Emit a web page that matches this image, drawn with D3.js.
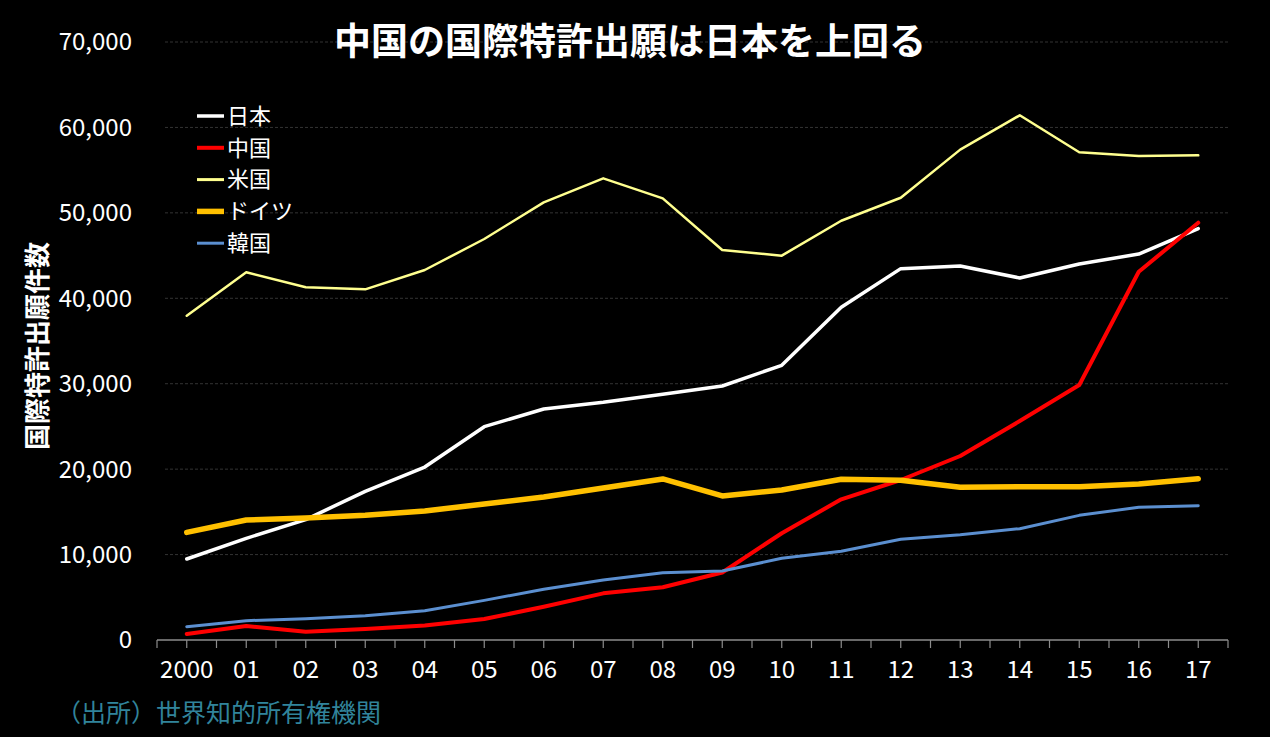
<!DOCTYPE html>
<html>
<head>
<meta charset="utf-8">
<script src="https://cdn.jsdelivr.net/npm/d3@7"></script>
<style>
  html, body { margin: 0; padding: 0; background: #000; }
  svg { display: block; }
</style>
</head>
<body>
<div id="chart"></div>
<script>
const width = 1270;
const height = 737;
const marginTop = 42;
const marginRight = 42;
const marginBottom = 97;
const marginLeft = 157;

const title = '中国の国際特許出願は日本を上回る';
const yTitle = '国際特許出願件数';
const source = '（出所）世界知的所有権機関';

// years on the x axis
const years = ['2000', '01', '02', '03', '04', '05', '06', '07', '08', '09',
               '10', '11', '12', '13', '14', '15', '16', '17'];
const yTicks = [0, 10000, 20000, 30000, 40000, 50000, 60000, 70000];

// values
const japan   = [9480, 11900, 14100, 17400, 20250, 24970, 27040, 27820, 28760, 29730,
                 32150, 38940, 43470, 43780, 42380, 44010, 45180, 48150];
const china   = [700, 1640, 970, 1300, 1700, 2450, 3900, 5460, 6170, 7900,
                 12500, 16470, 18730, 21540, 25630, 29850, 43100, 48850];
const usa     = [37960, 43040, 41290, 41050, 43310, 46940, 51230, 54040, 51700, 45650,
                 44990, 49080, 51770, 57400, 61420, 57090, 56650, 56730];
const germany = [12600, 14050, 14280, 14600, 15100, 15920, 16740, 17790, 18850, 16860,
                 17560, 18810, 18690, 17870, 17950, 17950, 18260, 18880];
const korea   = [1560, 2260, 2490, 2850, 3430, 4640, 5930, 7020, 7880, 8070,
                 9560, 10380, 11790, 12330, 13030, 14590, 15530, 15720];

const seriesNames = ['日本', '中国', '米国', 'ドイツ', '韓国'];
const seriesValues = [japan, china, usa, germany, korea];
const seriesColors = ['#ffffff', '#ff0000', '#ffff8f', '#ffc000', '#5b8fd0'];
const seriesWidths = [3.5, 4, 2.5, 5.5, 3];

const cjk = '"Noto Sans CJK JP", "Noto Sans", sans-serif';

const svg = d3.select('#chart').append('svg')
  .attr('width', width)
  .attr('height', height)
  .style('background-color', '#000');

const x = d3.scalePoint()
  .domain(years)
  .range([marginLeft, width - marginRight])
  .padding(0.5);

const y = d3.scaleLinear()
  .domain([0, 70000])
  .range([height - marginBottom, marginTop]);

// grid lines
svg.append('g')
  .selectAll('line')
  .data(yTicks.filter(d => d > 0))
  .join('line')
  .attr('x1', marginLeft + 8)
  .attr('x2', width - marginRight)
  .attr('y1', d => y(d))
  .attr('y2', d => y(d))
  .style('stroke', '#333')
  .style('stroke-width', 1)
  .style('stroke-dasharray', '3,2');

// y tick labels
svg.append('g')
  .selectAll('text')
  .data(yTicks)
  .join('text')
  .attr('x', 132)
  .attr('y', d => y(d))
  .attr('dy', '0.35em')
  .attr('text-anchor', 'end')
  .style('fill', '#fff')
  .style('font-family', cjk)
  .style('font-size', '24px')
  .text(d3.format(','));

// x axis: line, ticks every half step, labels
const step = x.step();
const halfTicks = d3.range(years.length * 2 + 1).map(i => marginLeft + i * step / 2);
const xAxis = svg.append('g');
xAxis.append('line')
  .attr('x1', marginLeft)
  .attr('x2', width - marginRight)
  .attr('y1', y(0))
  .attr('y2', y(0))
  .style('stroke', '#8c8c8c')
  .style('stroke-width', 1.5);
xAxis.selectAll('.tick')
  .data(halfTicks)
  .join('line')
  .attr('class', 'tick')
  .attr('x1', d => d)
  .attr('x2', d => d)
  .attr('y1', y(0))
  .attr('y2', y(0) + 8)
  .style('stroke', '#8c8c8c')
  .style('stroke-width', 1.2);
xAxis.selectAll('text')
  .data(years)
  .join('text')
  .attr('x', d => x(d))
  .attr('y', 670)
  .attr('dy', '0.35em')
  .attr('text-anchor', 'middle')
  .style('fill', '#fff')
  .style('font-family', cjk)
  .style('font-size', '24px')
  .text(d => d);

// lines
const line = d3.line()
  .x((d, i) => x(years[i]))
  .y(d => y(d));

svg.append('g')
  .selectAll('path')
  .data(seriesValues)
  .join('path')
  .attr('d', d => line(d))
  .style('fill', 'none')
  .style('stroke', (d, i) => seriesColors[i])
  .style('stroke-width', (d, i) => seriesWidths[i])
  .style('stroke-linejoin', 'round')
  .style('stroke-linecap', 'round');

// legend
const legend = svg.append('g')
  .selectAll('g')
  .data(seriesNames)
  .join('g')
  .attr('transform', (d, i) => `translate(197, ${116 + i * 31.8})`);
legend.append('line')
  .attr('x1', 0)
  .attr('x2', 27)
  .style('stroke', (d, i) => seriesColors[i])
  .style('stroke-width', (d, i) => Math.max(seriesWidths[i], 3));
legend.append('text')
  .attr('x', 30)
  .attr('dy', '0.35em')
  .style('fill', '#fff')
  .style('font-family', cjk)
  .style('font-size', '22px')
  .text(d => d);

// title
svg.append('text')
  .attr('x', 630)
  .attr('y', 42)
  .attr('dy', '0.35em')
  .attr('text-anchor', 'middle')
  .style('fill', '#fff')
  .style('font-family', cjk)
  .style('font-weight', 'bold')
  .style('font-size', '37px')
  .text(title);

// y axis title
svg.append('text')
  .attr('transform', 'translate(38, 346) rotate(-90)')
  .attr('dy', '0.35em')
  .attr('text-anchor', 'middle')
  .style('fill', '#fff')
  .style('font-family', cjk)
  .style('font-weight', 'bold')
  .style('font-size', '26px')
  .text(yTitle);

// source
svg.append('text')
  .attr('x', 56)
  .attr('y', 713)
  .attr('dy', '0.35em')
  .style('fill', '#31849b')
  .style('font-family', cjk)
  .style('font-size', '25px')
  .text(source);
</script>
</body>
</html>
